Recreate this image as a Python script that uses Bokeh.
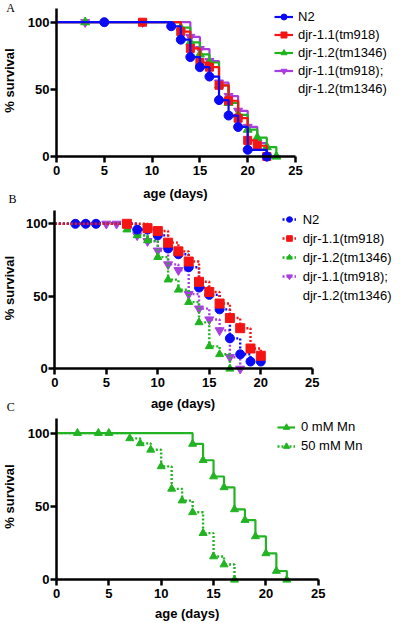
import numpy as np
from bokeh.plotting import figure
from bokeh.models import Range1d, FixedTicker, Label, Legend, LegendItem
from bokeh.layouts import column
from bokeh.embed import file_html
from bokeh.resources import INLINE

# ---------------- data ----------------
x_ticks = [0, 5, 10, 15, 20, 25]
y_ticks = [0, 50, 100]

# Panel A (solid lines)
a_n2_days = [0, 5, 12, 13, 14, 15, 16, 17, 18, 19, 20, 22]
a_n2_surv = [100, 100, 97, 87, 74, 66.5, 59.5, 42, 30.5, 22, 5, 0]
a_d11_days = [0, 9, 13, 14, 15, 16, 17, 18, 19, 20, 21, 22]
a_d11_surv = [100, 100, 93, 80.5, 70, 66.5, 53, 41.5, 28.5, 12, 8, 0]
a_d12_days = [0, 3, 13, 14, 15, 16, 17, 18, 19, 20, 21, 22, 23]
a_d12_surv = [100, 100, 96, 85, 76, 70, 53, 40, 31, 20, 14, 7, 0]
a_dbl_days = [0, 3, 9, 14, 15, 16, 17, 18, 19, 20, 21, 22]
a_dbl_surv = [100, 100, 100, 89, 80, 71, 55, 45, 34, 22, 10, 0]

# Panel B (dotted lines)
b_n2_days = [0, 2, 3, 4, 8, 9, 10, 11, 12, 13, 14, 15, 16, 17, 18, 19, 20]
b_n2_surv = [100, 100, 100, 100, 96, 96, 92, 83, 79, 70, 56, 51, 41, 21, 10, 5, 5]
b_d11_days = [0, 7, 9, 10, 11, 12, 13, 14, 15, 16, 17, 18, 19, 20]
b_d11_surv = [100, 100, 97, 95, 87, 81, 74, 60, 53, 45, 35, 28, 14, 9]
b_d12_days = [0, 7, 8, 9, 10, 11, 12, 13, 14, 15, 16, 17]
b_d12_surv = [100, 96, 92, 88.5, 77, 61.5, 54.5, 46, 32, 15.5, 10, 0]
b_dbl_days = [0, 5, 6, 8, 9, 10, 11, 12, 13, 14, 15, 16, 17, 18]
b_dbl_surv = [100, 100, 100, 92, 88, 81.5, 72, 68, 51.5, 41.5, 34, 26.5, 8, 0]

# Panel C
c_0_days = [0, 13, 14, 15, 16, 17, 18, 19, 20, 21, 22]
c_0_surv = [100, 92.6, 81.5, 70.4, 63, 48, 40.7, 29.6, 18, 6, 0]
c_50_days = [0, 2, 4, 5, 7, 8, 9, 10, 11, 12, 13, 14, 15, 16, 17]
c_50_surv = [100, 100, 100, 100, 96.4, 93, 88.6, 77.3, 62, 54, 46, 31.8, 15.9, 10.4, 0]

labels_genotype = ["N2", "djr-1.1(tm918)", "djr-1.2(tm1346)", "djr-1.1(tm918);", "djr-1.2(tm1346)"]
labels_mn = ["0 mM Mn", "50 mM Mn"]

FONT = "Liberation Sans"
SERIF = "Liberation Serif"
BLUE = "#0A0AF5"
RED = "#F51414"
GREEN = "#1EB41E"
PURPLE = "#A83EE0"
GREEN_C = "#22B422"
DOT = "2 2"


def make_fig(height, xr, yr, ytop):
    p = figure(width=400, height=height, x_range=Range1d(*xr), y_range=Range1d(*yr),
               output_backend="svg", toolbar_location=None, title=None,
               min_border_left=0, min_border_right=0, min_border_top=0, min_border_bottom=0)
    p.outline_line_color = None
    p.grid.visible = False
    p.xaxis.ticker = FixedTicker(ticks=x_ticks)
    p.xaxis.bounds = (0, 25)
    p.xaxis.fixed_location = 0
    p.yaxis.ticker = FixedTicker(ticks=y_ticks)
    p.yaxis.bounds = (0, ytop)
    p.yaxis.fixed_location = 0
    for ax in (p.xaxis[0], p.yaxis[0]):
        ax.axis_line_width = 2.5
        ax.axis_line_color = "black"
        ax.major_tick_line_width = 2.5
        ax.major_tick_out = 6
        ax.major_tick_in = 0
        ax.minor_tick_out = 0
        ax.minor_tick_in = 0
        ax.major_label_text_font = FONT
        ax.major_label_text_font_style = "bold"
        ax.major_label_text_font_size = "13px"
        ax.major_label_text_color = "black"
    p.xaxis.major_label_standoff = 3
    p.yaxis.major_label_standoff = 1
    return p


def text(p, x, y, s, size="13px", font=FONT, style="bold", angle=0.0):
    p.add_layout(Label(x=x, y=y, text=s, text_font=font, text_font_style=style,
                       text_font_size=size, text_align="center", text_baseline="middle",
                       angle=angle, text_color="black"))


def series(p, days, surv, color, marker, size, dash="solid", width=2.2, first=1):
    l = p.step(x=days, y=surv, mode="after", line_color=color, line_width=width, line_dash=dash)
    s = p.scatter(x=days[first:], y=surv[first:], marker=marker, size=size,
                  fill_color=color, line_color=color)
    return [l, s]


def legend(p, items, loc, glyph_w, standoff, item_h, spacing):
    leg = Legend(items=items, location=loc, border_line_color=None, background_fill_alpha=0,
                 padding=0, margin=0, spacing=spacing, glyph_width=glyph_w, glyph_height=item_h,
                 label_height=item_h, label_standoff=standoff, label_text_font=FONT,
                 label_text_font_size="13px", label_text_color="black")
    p.add_layout(leg)


# ---------------- Panel A  (canvas rows 0..206) ----------------
pA = make_fig(206, (-56 / 9.56, 344 / 9.56), (-50 / 1.343, 156 / 1.343), 110)
rA_dbl = series(pA, a_dbl_days, a_dbl_surv, PURPLE, "inverted_triangle", 9)
rA_d12 = series(pA, a_d12_days, a_d12_surv, GREEN, "triangle", 9)
rA_d11 = series(pA, a_d11_days, a_d11_surv, RED, "square", 8)
rA_n2 = series(pA, a_n2_days, a_n2_surv, BLUE, "circle", 9)
legend(pA, [LegendItem(label=labels_genotype[0], renderers=rA_n2),
            LegendItem(label=labels_genotype[1], renderers=rA_d11),
            LegendItem(label=labels_genotype[2], renderers=rA_d12),
            LegendItem(label=labels_genotype[3], renderers=rA_dbl),
            LegendItem(label=labels_genotype[4], renderers=[])],
       (274, 109.8), 19, 5, 15, 3)
text(pA, -4.92, 56.6, "% survival", angle=np.pi / 2)
text(pA, 12.45, -27.55, "age (days)")
text(pA, -4.81, 110.5, "A", size="12px", font=SERIF, style="normal")
text(pA, -4.6, -31.3, "B", size="12px", font=SERIF, style="normal")

# ---------------- Panel B  (canvas rows 206..414) ----------------
pB = make_fig(208, (-54.3 / 10.3, 345.7 / 10.3), (-45.7 / 1.45, 162.3 / 1.45), 109)
rB_dbl = series(pB, b_dbl_days, b_dbl_surv, PURPLE, "inverted_triangle", 9, DOT, 2.4)
rB_d12 = series(pB, b_d12_days, b_d12_surv, GREEN, "triangle", 8, DOT, 2.4)
rB_n2 = series(pB, b_n2_days, b_n2_surv, BLUE, "circle", 9, DOT, 2.4)
rB_d11 = series(pB, b_d11_days, b_d11_surv, RED, "square", 9, DOT, 2.4)
legend(pB, [LegendItem(label=labels_genotype[0], renderers=rB_n2),
            LegendItem(label=labels_genotype[1], renderers=rB_d11),
            LegendItem(label=labels_genotype[2], renderers=rB_d12),
            LegendItem(label=labels_genotype[3], renderers=rB_dbl),
            LegendItem(label=labels_genotype[4], renderers=[])],
       (281.7, 111), 14, 7, 16, 3)
text(pB, -4.4, 55.7, "% survival", angle=np.pi / 2)
text(pB, 12.45, -24.1, "age (days)")
text(pB, -4.27, -26.0, "C", size="12px", font=SERIF, style="normal")

# ---------------- Panel C  (canvas rows 414..623) ----------------
pC = make_fig(209, (-56 / 10.47, 344 / 10.47), (-43.7 / 1.467, 165.3 / 1.467), 109.7)
rC_0 = series(pC, c_0_days, c_0_surv, GREEN_C, "triangle", 8)
rC_50 = series(pC, c_50_days, c_50_surv, GREEN_C, "triangle", 8, DOT, 2.4)
legend(pC, [LegendItem(label=labels_mn[0], renderers=rC_0),
            LegendItem(label=labels_mn[1], renderers=rC_50)],
       (277, 169.3), 18, 6, 16, 3)
text(pC, -4.49, 56.8, "% survival", angle=np.pi / 2)
text(pC, 12.48, -23.2, "age (days)")

layout = column(pA, pB, pC)
open("out.html", "w").write(file_html(layout, INLINE))
